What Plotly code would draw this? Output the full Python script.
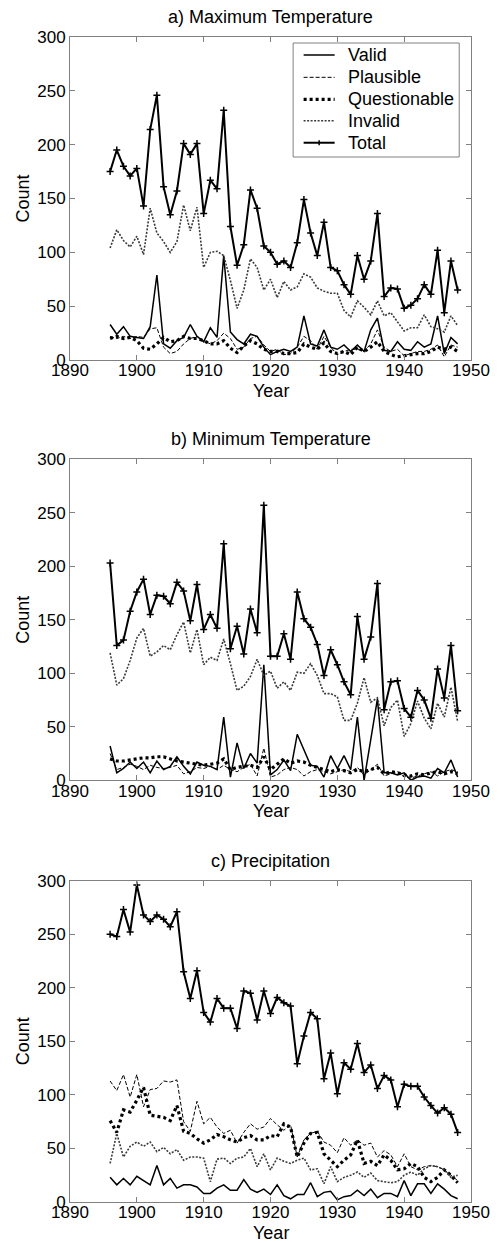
import plotly.graph_objects as go

# Station-year counts by quality flag, 1896-1948
years = list(range(1896, 1949))

# a) Maximum temperature
tmax_valid = [33, 24, 31, 22, 21, 20, 31, 79, 15, 11,
              18, 21, 33, 22, 17, 30, 21, 97, 26, 19,
              15, 24, 22, 12, 5, 8, 10, 8, 12, 41,
              15, 13, 28, 12, 10, 14, 8, 14, 8, 28,
              39, 9, 8, 17, 10, 9, 17, 12, 15, 41,
              6, 21, 15]
tmax_plausible = [22, 20, 22, 20, 22, 21, 29, 30, 12, 6,
                  8, 15, 20, 22, 18, 15, 18, 25, 20, 10,
                  12, 20, 22, 14, 8, 10, 5, 6, 12, 22,
                  18, 10, 22, 12, 5, 8, 10, 10, 8, 15,
                  28, 12, 8, 10, 4, 6, 8, 8, 10, 14,
                  3, 14, 12]
tmax_questionable = [20, 22, 20, 21, 18, 11, 10, 15, 21, 17,
                     18, 22, 20, 20, 18, 15, 15, 18, 11, 7,
                     13, 18, 15, 10, 8, 8, 6, 6, 7, 15,
                     12, 10, 16, 8, 6, 8, 5, 12, 8, 12,
                     17, 8, 5, 3, 4, 5, 6, 6, 8, 12,
                     10, 12, 8]
tmax_invalid = [104, 121, 111, 105, 115, 98, 141, 118, 110, 100,
                110, 144, 120, 142, 86, 100, 101, 97, 74, 48,
                65, 94, 86, 65, 75, 58, 73, 65, 68, 80,
                77, 67, 64, 62, 62, 46, 40, 55, 49, 42,
                55, 41, 44, 35, 27, 30, 30, 42, 31, 29,
                26, 41, 32]
tmax_total = [175, 195, 180, 171, 178, 143, 214, 246, 161, 135,
              157, 201, 191, 201, 136, 167, 159, 232, 124, 88,
              107, 158, 141, 106, 100, 89, 92, 86, 109, 149,
              118, 97, 128, 86, 83, 70, 61, 97, 75, 92,
              136, 59, 67, 66, 48, 51, 57, 70, 61, 102,
              44, 92, 65]

# b) Minimum temperature
tmin_valid = [32, 7, 11, 17, 11, 17, 7, 18, 10, 13,
              22, 13, 6, 17, 14, 13, 10, 59, 3, 35,
              11, 25, 16, 108, 5, 10, 19, 9, 43, 29,
              14, 13, 3, 23, 11, 23, 10, 59, 0, 38,
              76, 7, 7, 5, 7, 0, 3, 4, 2, 11,
              7, 19, 3]
tmin_plausible = [25, 10, 12, 15, 13, 10, 14, 12, 11, 12,
                  14, 6, 8, 12, 11, 13, 10, 14, 10, 8,
                  12, 15, 4, 30, 3, 5, 10, 12, 10, 4,
                  8, 10, 8, 6, 8, 10, 8, 12, 5, 10,
                  15, 4, 6, 8, 3, 2, 4, 6, 8, 4,
                  8, 10, 8]
tmin_questionable = [20, 18, 18, 19, 20, 21, 21, 22, 22, 20,
                     18, 17, 16, 15, 14, 15, 16, 20, 10, 12,
                     13, 14, 12, 22, 10, 15, 20, 16, 18, 17,
                     14, 12, 10, 8, 10, 9, 7, 10, 8, 10,
                     12, 6, 8, 7, 5, 4, 6, 5, 7, 8,
                     6, 8, 6]
tmin_invalid = [119, 89, 95, 112, 133, 142, 116, 120, 126, 122,
                136, 148, 119, 141, 108, 115, 112, 132, 109, 84,
                88, 97, 113, 98, 102, 86, 92, 84, 101, 100,
                109, 98, 81, 81, 78, 56, 56, 72, 96, 73,
                77, 51, 68, 75, 41, 53, 74, 58, 48, 72,
                59, 87, 55]
tmin_total = [203, 126, 131, 158, 176, 188, 155, 173, 172, 165,
              185, 177, 149, 183, 141, 155, 142, 221, 123, 144,
              118, 160, 138, 257, 116, 116, 137, 113, 176, 151,
              143, 127, 98, 122, 108, 92, 80, 153, 113, 134,
              184, 66, 92, 93, 67, 59, 84, 75, 58, 104,
              77, 126, 65]

# c) Precipitation
prcp_valid = [23, 16, 22, 16, 24, 20, 16, 34, 16, 22,
              13, 16, 16, 14, 8, 8, 13, 16, 11, 11,
              21, 12, 9, 12, 7, 16, 6, 3, 7, 7,
              18, 5, 9, 10, 2, 5, 6, 11, 6, 12,
              4, 8, 8, 5, 20, 6, 17, 17, 8, 17,
              12, 6, 3]
prcp_plausible = [113, 104, 119, 98, 119, 89, 105, 106, 113, 112,
                  114, 75, 66, 94, 73, 79, 70, 64, 67, 55,
                  65, 73, 68, 70, 78, 72, 67, 72, 42, 58,
                  64, 66, 56, 53, 46, 60, 53, 58, 53, 55,
                  42, 48, 44, 33, 45, 33, 30, 33, 34, 33,
                  30, 25, 20]
prcp_questionable = [76, 65, 86, 84, 95, 107, 81, 80, 79, 76,
                     90, 66, 64, 59, 55, 58, 63, 61, 58, 56,
                     60, 62, 58, 58, 62, 61, 73, 70, 42, 55,
                     64, 65, 45, 39, 33, 39, 44, 58, 36, 38,
                     34, 44, 39, 30, 31, 36, 33, 23, 19, 23,
                     30, 25, 18]
prcp_invalid = [36, 64, 42, 52, 56, 52, 56, 47, 51, 45,
                49, 39, 42, 42, 41, 19, 40, 41, 36, 41,
                42, 50, 33, 45, 30, 41, 38, 36, 39, 41,
                30, 31, 17, 33, 19, 23, 25, 28, 23, 27,
                20, 19, 18, 19, 25, 28, 25, 31, 34, 33,
                30, 23, 25]
prcp_total = [250, 248, 273, 252, 296, 268, 262, 268, 264, 257,
              271, 215, 190, 216, 177, 168, 190, 181, 181, 162,
              197, 195, 170, 197, 176, 191, 186, 183, 129, 155,
              177, 171, 115, 139, 101, 130, 124, 148, 121, 128,
              106, 118, 114, 89, 110, 108, 108, 98, 90, 83,
              88, 82, 65]

panel_titles = ["a) Maximum Temperature", "b) Minimum Temperature", "c) Precipitation"]
series_names = ["Valid", "Plausible", "Questionable", "Invalid", "Total"]
panels = [
    [tmax_valid, tmax_plausible, tmax_questionable, tmax_invalid, tmax_total],
    [tmin_valid, tmin_plausible, tmin_questionable, tmin_invalid, tmin_total],
    [prcp_valid, prcp_plausible, prcp_questionable, prcp_invalid, prcp_total],
]

FONT = "Liberation Sans, Arial, Helvetica, sans-serif"
line_styles = {
    "Valid": dict(color="black", width=1.5, dash="solid"),
    "Plausible": dict(color="black", width=1, dash="4px,2px"),
    "Questionable": dict(color="black", width=3.2, dash="3px,3px"),
    "Invalid": dict(color="#3a3a3a", width=1.6, dash="2px,1.5px"),
    "Total": dict(color="black", width=2, dash="solid"),
}
total_marker = dict(symbol="cross-thin", size=5, color="black",
                    line=dict(color="black", width=1.5))

domains = [[0.7227, 1.0], [0.362, 0.6375], [0.0, 0.2758]]

fig = go.Figure()
for i, series in enumerate(panels):
    ax = "" if i == 0 else str(i + 1)
    for name, vals in zip(series_names, series):
        is_total = name == "Total"
        fig.add_trace(go.Scatter(
            x=years, y=vals, name=name, xaxis="x" + ax, yaxis="y" + ax,
            mode="lines+markers" if is_total else "lines",
            line=line_styles[name],
            marker=total_marker if is_total else None,
            showlegend=False))

axis_common = dict(
    showline=True, linecolor="#808080", linewidth=1, mirror="ticks",
    ticks="inside", ticklen=5, tickcolor="#808080", tickwidth=1,
    showgrid=False, zeroline=False,
    tickfont=dict(family=FONT, size=17, color="black"),
)

layout = dict(
    width=502, height=1243,
    margin=dict(l=70, r=24, t=37, b=41),
    plot_bgcolor="white", paper_bgcolor="white",
    font=dict(family=FONT, size=18, color="black"),
    showlegend=False,
    annotations=[],
    shapes=[],
)

for i in range(3):
    ax = "" if i == 0 else str(i + 1)
    layout["xaxis" + ax] = dict(axis_common, range=[1890, 1950], dtick=10, tick0=1890,
                                anchor="y" + ax, domain=[0, 1], ticklabelstandoff=-5)
    layout["yaxis" + ax] = dict(axis_common, range=[0, 300], dtick=50, tick0=0,
                                anchor="x" + ax, domain=domains[i])
    xr = "x" + ax + " domain"
    yr = "y" + ax + " domain"
    layout["annotations"] += [
        dict(text=panel_titles[i], xref=xr, yref=yr, x=0.5, y=1, xanchor="center",
             yanchor="bottom", yshift=8, showarrow=False,
             font=dict(family=FONT, size=18, color="black")),
        dict(text="Year", xref=xr, yref=yr, x=0.5, y=0, xanchor="center",
             yanchor="top", yshift=-19, showarrow=False,
             font=dict(family=FONT, size=18, color="black")),
        dict(text="Count", xref=xr, yref=yr, x=0, y=0.5, xanchor="center",
             yanchor="middle", xshift=-47, textangle=-90, showarrow=False,
             font=dict(family=FONT, size=18, color="black")),
    ]

# Boxed key in the upper right of panel a (domain coordinates of that panel)
key_x0, key_x1, key_y0, key_y1 = 0.5564, 0.9706, 0.6285, 0.9814
sample_x0, sample_x1, label_x = 0.5826, 0.6600, 0.6887
row_y = [0.9443, 0.8752, 0.8071, 0.7409, 0.6727]
layout["shapes"].append(dict(
    type="rect", xref="x domain", yref="y domain",
    x0=key_x0, x1=key_x1, y0=key_y0, y1=key_y1,
    line=dict(color="#808080", width=1), fillcolor="white", layer="above"))
for name, ry in zip(series_names, row_y):
    layout["shapes"].append(dict(
        type="line", xref="x domain", yref="y domain",
        x0=sample_x0, x1=sample_x1, y0=ry, y1=ry,
        line=line_styles[name], layer="above"))
    if name == "Total":
        xm = (sample_x0 + sample_x1) / 2
        layout["shapes"].append(dict(
            type="line", xref="x domain", yref="y domain",
            x0=xm, x1=xm, y0=ry - 0.008, y1=ry + 0.008,
            line=dict(color="black", width=1.5), layer="above"))
    layout["annotations"].append(dict(
        text=name, xref="x domain", yref="y domain", x=label_x, y=ry,
        xanchor="left", yanchor="middle", showarrow=False,
        font=dict(family=FONT, size=18, color="black")))

fig.update_layout(**layout)
fig.write_html("out.html")
